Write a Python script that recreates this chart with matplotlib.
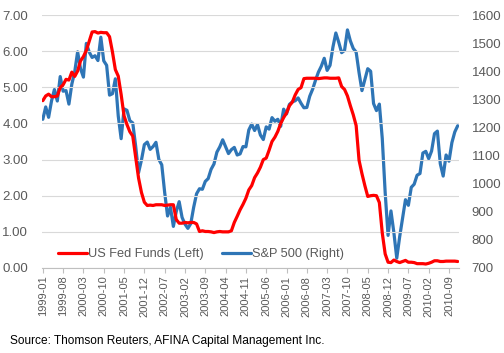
import numpy as np
import matplotlib
matplotlib.use("Agg")
import matplotlib.pyplot as plt

# US Fed Funds effective rate, monthly 1999-01 .. 2010-12 (left axis, %)
fed_funds = [
    4.63, 4.76, 4.81, 4.74, 4.74, 4.76, 4.99, 5.07, 5.22, 5.20, 5.42, 5.30,
    5.45, 5.73, 5.85, 6.02, 6.27, 6.53, 6.54, 6.50, 6.52, 6.51, 6.51, 6.40,
    5.98, 5.49, 5.31, 4.80, 4.21, 3.97, 3.77, 3.65, 3.07, 2.49, 2.09, 1.82,
    1.73, 1.74, 1.73, 1.75, 1.75, 1.75, 1.73, 1.74, 1.75, 1.75, 1.34, 1.24,
    1.24, 1.26, 1.25, 1.26, 1.26, 1.22, 1.01, 1.03, 1.01, 1.01, 1.00, 0.98,
    1.00, 1.01, 1.00, 1.00, 1.00, 1.03, 1.26, 1.43, 1.61, 1.76, 1.93, 2.16,
    2.28, 2.50, 2.63, 2.79, 3.00, 3.04, 3.26, 3.50, 3.62, 3.78, 4.00, 4.16,
    4.29, 4.49, 4.59, 4.79, 4.94, 4.99, 5.24, 5.25, 5.25, 5.25, 5.25, 5.24,
    5.25, 5.26, 5.26, 5.25, 5.25, 5.25, 5.26, 5.02, 4.94, 4.76, 4.49, 4.24,
    3.94, 2.98, 2.61, 2.28, 1.98, 2.00, 2.01, 2.00, 1.81, 0.97, 0.39, 0.16,
    0.15, 0.22, 0.18, 0.15, 0.18, 0.21, 0.16, 0.16, 0.15, 0.12, 0.12, 0.12,
    0.11, 0.13, 0.16, 0.20, 0.20, 0.18, 0.18, 0.19, 0.19, 0.19, 0.19, 0.18,
]

# S&P 500 level at the start of each month (right axis)
sp500 = [
    1229, 1273, 1236, 1294, 1335, 1294, 1381, 1329, 1331, 1283, 1354, 1398,
    1469, 1409, 1379, 1499, 1468, 1449, 1455, 1438, 1521, 1437, 1421, 1315,
    1320, 1373, 1241, 1160, 1266, 1261, 1224, 1216, 1134, 1039, 1084, 1139,
    1148, 1122, 1132, 1147, 1086, 1067, 969, 885, 916, 848, 901, 936,
    880, 856, 841, 858, 916, 964, 982, 980, 1008, 1018, 1051, 1070,
    1112, 1131, 1156, 1132, 1107, 1121, 1129, 1102, 1106, 1132, 1131, 1191,
    1212, 1189, 1210, 1173, 1157, 1202, 1194, 1235, 1222, 1229, 1204, 1265,
    1248, 1282, 1291, 1295, 1305, 1286, 1270, 1271, 1311, 1336, 1368, 1397,
    1418, 1446, 1403, 1421, 1486, 1536, 1503, 1466, 1474, 1547, 1508, 1481,
    1468, 1395, 1331, 1370, 1409, 1400, 1285, 1260, 1283, 1161, 969, 816,
    903, 826, 735, 811, 878, 943, 923, 987, 998, 1030, 1036, 1109,
    1115, 1089, 1116, 1178, 1187, 1071, 1027, 1102, 1080, 1146, 1184, 1206,
]

tick_labels = ["1999-01", "1999-08", "2000-03", "2000-10", "2001-05", "2001-12",
               "2002-07", "2003-02", "2003-09", "2004-04", "2004-11", "2005-06",
               "2006-01", "2006-08", "2007-03", "2007-10", "2008-05", "2008-12",
               "2009-07", "2010-02", "2010-09"]

series_names = ["US Fed Funds (Left)", "S&P 500 (Right)"]
source_text = "Source: Thomson Reuters, AFINA Capital Management Inc."

plt.rcParams['font.family'] = ['Liberation Sans', 'DejaVu Sans']
txt = '#595959'

fig = plt.figure(figsize=(5.04, 3.53), dpi=100)
ax = fig.add_axes([41.5/504, 1 - 268/353, (459 - 41.5)/504, (268 - 15)/353])
ax2 = ax.twinx()

x = np.arange(len(fed_funds))
ax.set_zorder(ax2.get_zorder() + 1)
ax.patch.set_visible(False)

l1, = ax.plot(x, fed_funds, color='#FF0000', lw=2.3, solid_joinstyle='round',
              solid_capstyle='round', label=series_names[0])
l2, = ax2.plot(x, sp500, color='#2E75B6', lw=2.3, solid_joinstyle='round',
               solid_capstyle='round', label=series_names[1])

ax.set_xlim(-0.45, len(fed_funds) - 0.55)
ax.set_ylim(0, 7)
ax2.set_ylim(700, 1600)
ax.set_yticks(np.arange(0, 8, 1))
ax.set_yticklabels([f"{v:.2f}" for v in np.arange(0, 8, 1)])
ax2.set_yticks(np.arange(700, 1700, 100))
ax.grid(axis='y', color='#D9D9D9', lw=0.8)
ax.set_axisbelow(True)

tick_pos = np.arange(0, len(fed_funds), 7)[:len(tick_labels)]
ax.set_xticks(tick_pos)
ax.set_xticklabels(tick_labels, rotation=90, fontsize=8, color=txt)
ax.tick_params(axis='x', length=3.5, width=0.8, color='#BFBFBF', pad=2)
ax.tick_params(axis='y', length=0, labelsize=9.5, labelcolor=txt, pad=9.5)
ax2.tick_params(axis='y', length=0, labelsize=9.5, labelcolor=txt, pad=9)

for a in (ax, ax2):
    for s in ('top', 'right', 'left'):
        a.spines[s].set_visible(False)
    a.spines['bottom'].set_visible(False)
ax.spines['bottom'].set_visible(True)
ax.spines['bottom'].set_color('#BFBFBF')
ax.spines['bottom'].set_linewidth(0.8)

leg = ax.legend(handles=[l1, l2], loc='lower left', bbox_to_anchor=(0.02, 0.0),
                ncol=2, frameon=False, fontsize=9.2, handlelength=2.3,
                handletextpad=0.1, columnspacing=1.4, borderaxespad=0.2)
for t in leg.get_texts():
    t.set_color(txt)

fig.text(10/504, 1 - 341/353, source_text, fontsize=8.6, color='black',
         va='center', ha='left')

fig.savefig('out.png', dpi=100)
